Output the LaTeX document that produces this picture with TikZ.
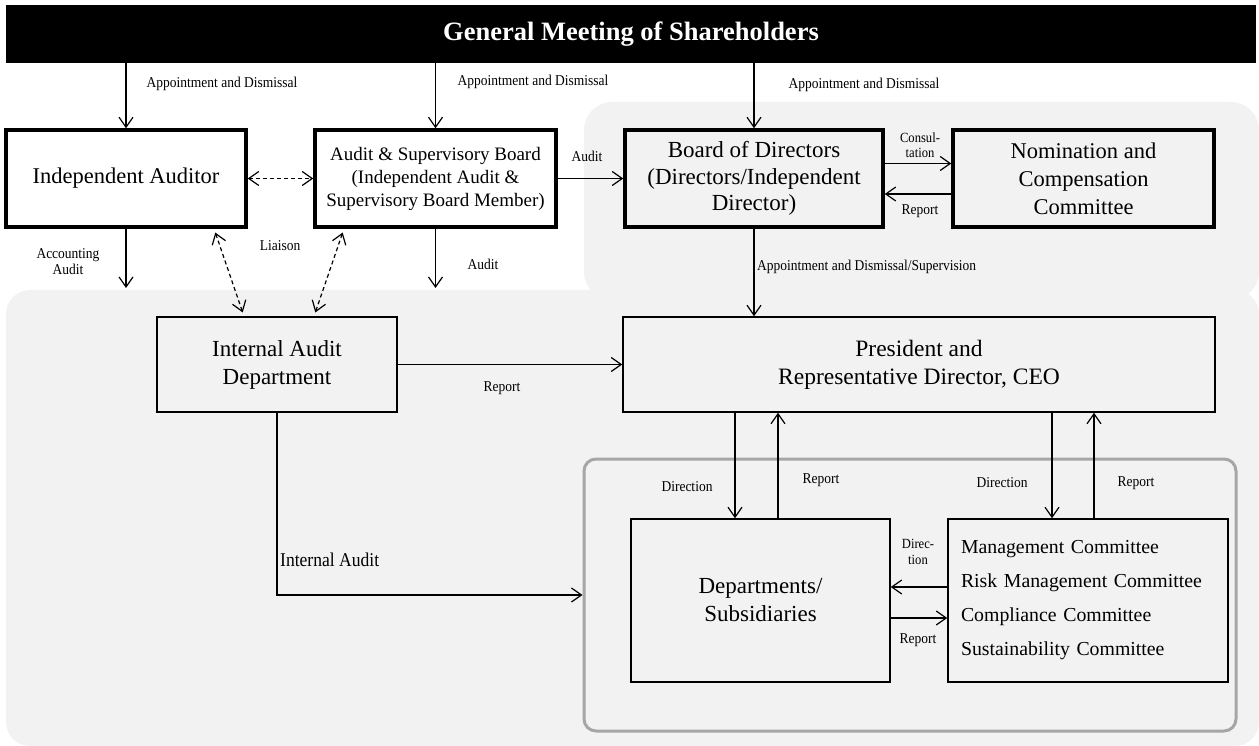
\documentclass[tikz,border=0pt]{standalone}
\usepackage{fontspec}
\setmainfont{Liberation Serif}
\newfontfamily\lblfont[FakeStretch=0.9]{Liberation Serif}
\usetikzlibrary{arrows.meta}
\definecolor{bg}{RGB}{242,242,242}
\definecolor{grpc}{RGB}{166,166,166}
\begin{document}
\begin{tikzpicture}[x=1pt,y=-1pt,
  thickbox/.style={draw, line width=3.5pt, align=center, inner sep=2pt, font=\fontsize{23}{26.5}\selectfont},
  thinbox/.style={draw, line width=1.5pt, align=center, inner sep=2pt, font=\fontsize{23}{28}\selectfont},
  arr/.style={line width=1.2pt, -{Straight Barb[length=10pt,width=14pt,line width=1.2pt]}},
  darr/.style={line width=1.2pt, dash pattern=on 4pt off 3pt,
     {Straight Barb[length=10pt,width=14pt,line width=1.2pt]}-{Straight Barb[length=10pt,width=14pt,line width=1.2pt]}},
  lbl/.style={font=\lblfont\fontsize{15}{16}\selectfont, align=center, inner sep=0pt},
  slbl/.style={font=\lblfont\fontsize{14}{15.5}\selectfont, align=center, inner sep=0pt}]
\useasboundingbox (0,0) rectangle (1259,746);
% background regions
\fill[bg, rounded corners=28pt] (584,102) rectangle (1259,300);
\fill[bg, rounded corners=24pt] (6,290) rectangle (1259,746);
\node[draw=grpc, line width=3pt, rounded corners=12pt, minimum width=652pt, minimum height=272pt, inner sep=0pt] (grp) at (910,595) {};
% top bar
\node[fill=black, minimum width=1250pt, minimum height=58pt, inner sep=0pt, text=white, font=\fontsize{26.5}{30}\selectfont\bfseries] (bar) at (631,34) {General Meeting of Shareholders};
% boxes
\node[thickbox, minimum width=240pt, minimum height=97pt, font=\fontsize{22.5}{26}\selectfont] (ia) at (126,178.5) {Independent Auditor};
\node[thickbox, minimum width=241pt, minimum height=97pt, font=\fontsize{19}{23}\selectfont] (asb) at (435.5,178.5) {Audit \& Supervisory Board\\(Independent Audit \&\\Supervisory Board Member)};
\node[thickbox, minimum width=258pt, minimum height=97pt] (bod) at (754,178.5) {Board of Directors\\(Directors/Independent\\Director)};
\node[thickbox, minimum width=261pt, minimum height=97pt, font=\fontsize{22.5}{28}\selectfont] (ncc) at (1083.5,178.5) {Nomination and\\Compensation\\Committee};
\node[thinbox, minimum width=240pt, minimum height=95pt] (iad) at (277,364.5) {Internal Audit\\Department};
\node[thinbox, minimum width=592pt, minimum height=95pt, font=\fontsize{23.5}{28}\selectfont] (pres) at (919,364.5) {President and\\Representative Director, CEO};
\node[thinbox, minimum width=259pt, minimum height=163pt] (dept) at (760.5,600.5) {Departments/\\Subsidiaries};
\node[thinbox, text width=254pt, inner xsep=13pt, inner ysep=0pt, minimum height=163pt, align=left, font=\fontsize{19.8}{34}\selectfont] (comm) at (1088,600.5) {Management Committee\\Risk Management Committee\\Compliance Committee\\Sustainability Committee};
% free ends
\coordinate (aaend) at (125,288);
% connectors
\draw[arr] (ia.north |- bar.south) -- (ia.north);
\draw[arr] (asb.north |- bar.south) -- (asb.north);
\draw[arr] (bod.north |- bar.south) -- (bod.north);
\draw[darr] (ia.east) -- (asb.west);
\draw[arr] (asb.east) -- (bod.west);
\draw[arr] ([yshift=15pt]bod.east) -- ([yshift=15pt]ncc.west);
\draw[arr] ([yshift=-15.5pt]ncc.west) -- ([yshift=-15.5pt]bod.east);
\draw[arr] (ia.south) -- (ia.south |- aaend);
\draw[arr] (asb.south) -- (asb.south |- aaend);
\draw[darr, shorten <=4pt, shorten >=4pt] ([xshift=88pt]ia.south) -- ([xshift=-33pt]iad.north);
\draw[darr, shorten <=4pt, shorten >=4pt] ([xshift=-91.5pt]asb.south) -- ([xshift=37pt]iad.north);
\draw[arr] (bod.south) -- (bod.south |- pres.north);
\draw[arr] (iad.east) -- (pres.west);
\draw[arr] (iad.south) |- (grp.west);
\draw[arr] ([xshift=-25.5pt]dept.north |- pres.south) -- ([xshift=-25.5pt]dept.north);
\draw[arr] ([xshift=17.5pt]dept.north) -- ([xshift=17.5pt]dept.north |- pres.south);
\draw[arr] ([xshift=-36pt]comm.north |- pres.south) -- ([xshift=-36pt]comm.north);
\draw[arr] ([xshift=6pt]comm.north) -- ([xshift=6pt]comm.north |- pres.south);
\draw[arr] ([yshift=13.5pt]comm.west) -- ([yshift=13.5pt]dept.east);
\draw[arr] ([yshift=-17.5pt]dept.east) -- ([yshift=-17.5pt]comm.west);
% labels
\node[lbl] (l1) at (222,84) {Appointment and Dismissal};
\node[lbl] (l2) at (533,82) {Appointment and Dismissal};
\node[lbl] (l3) at (864,85) {Appointment and Dismissal};
\node[lbl] (l4) at (587,156) {Audit};
\node[slbl] (l5) at (920,145) {Consul-\\tation};
\node[lbl] (l6) at (920,211) {Report};
\node[lbl] (l7) at (68,262) {Accounting\\Audit};
\node[lbl] (l8) at (280,246) {Liaison};
\node[lbl] (l9) at (483,264) {Audit};
\node[lbl, anchor=west] (l10) at (757,267) {Appointment and Dismissal/Supervision};
\node[lbl] (l11) at (502,388) {Report};
\node[lbl, anchor=west, font=\lblfont\fontsize{19.5}{22}\selectfont] (l12) at (280,560) {Internal Audit};
\node[lbl] (l13) at (687,487) {Direction};
\node[lbl] (l14) at (821,480) {Report};
\node[lbl] (l15) at (1002,483) {Direction};
\node[lbl] (l16) at (1136,483) {Report};
\node[slbl] (l17) at (918,552) {Direc-\\tion};
\node[lbl] (l18) at (918,640) {Report};
\end{tikzpicture}
\end{document}
